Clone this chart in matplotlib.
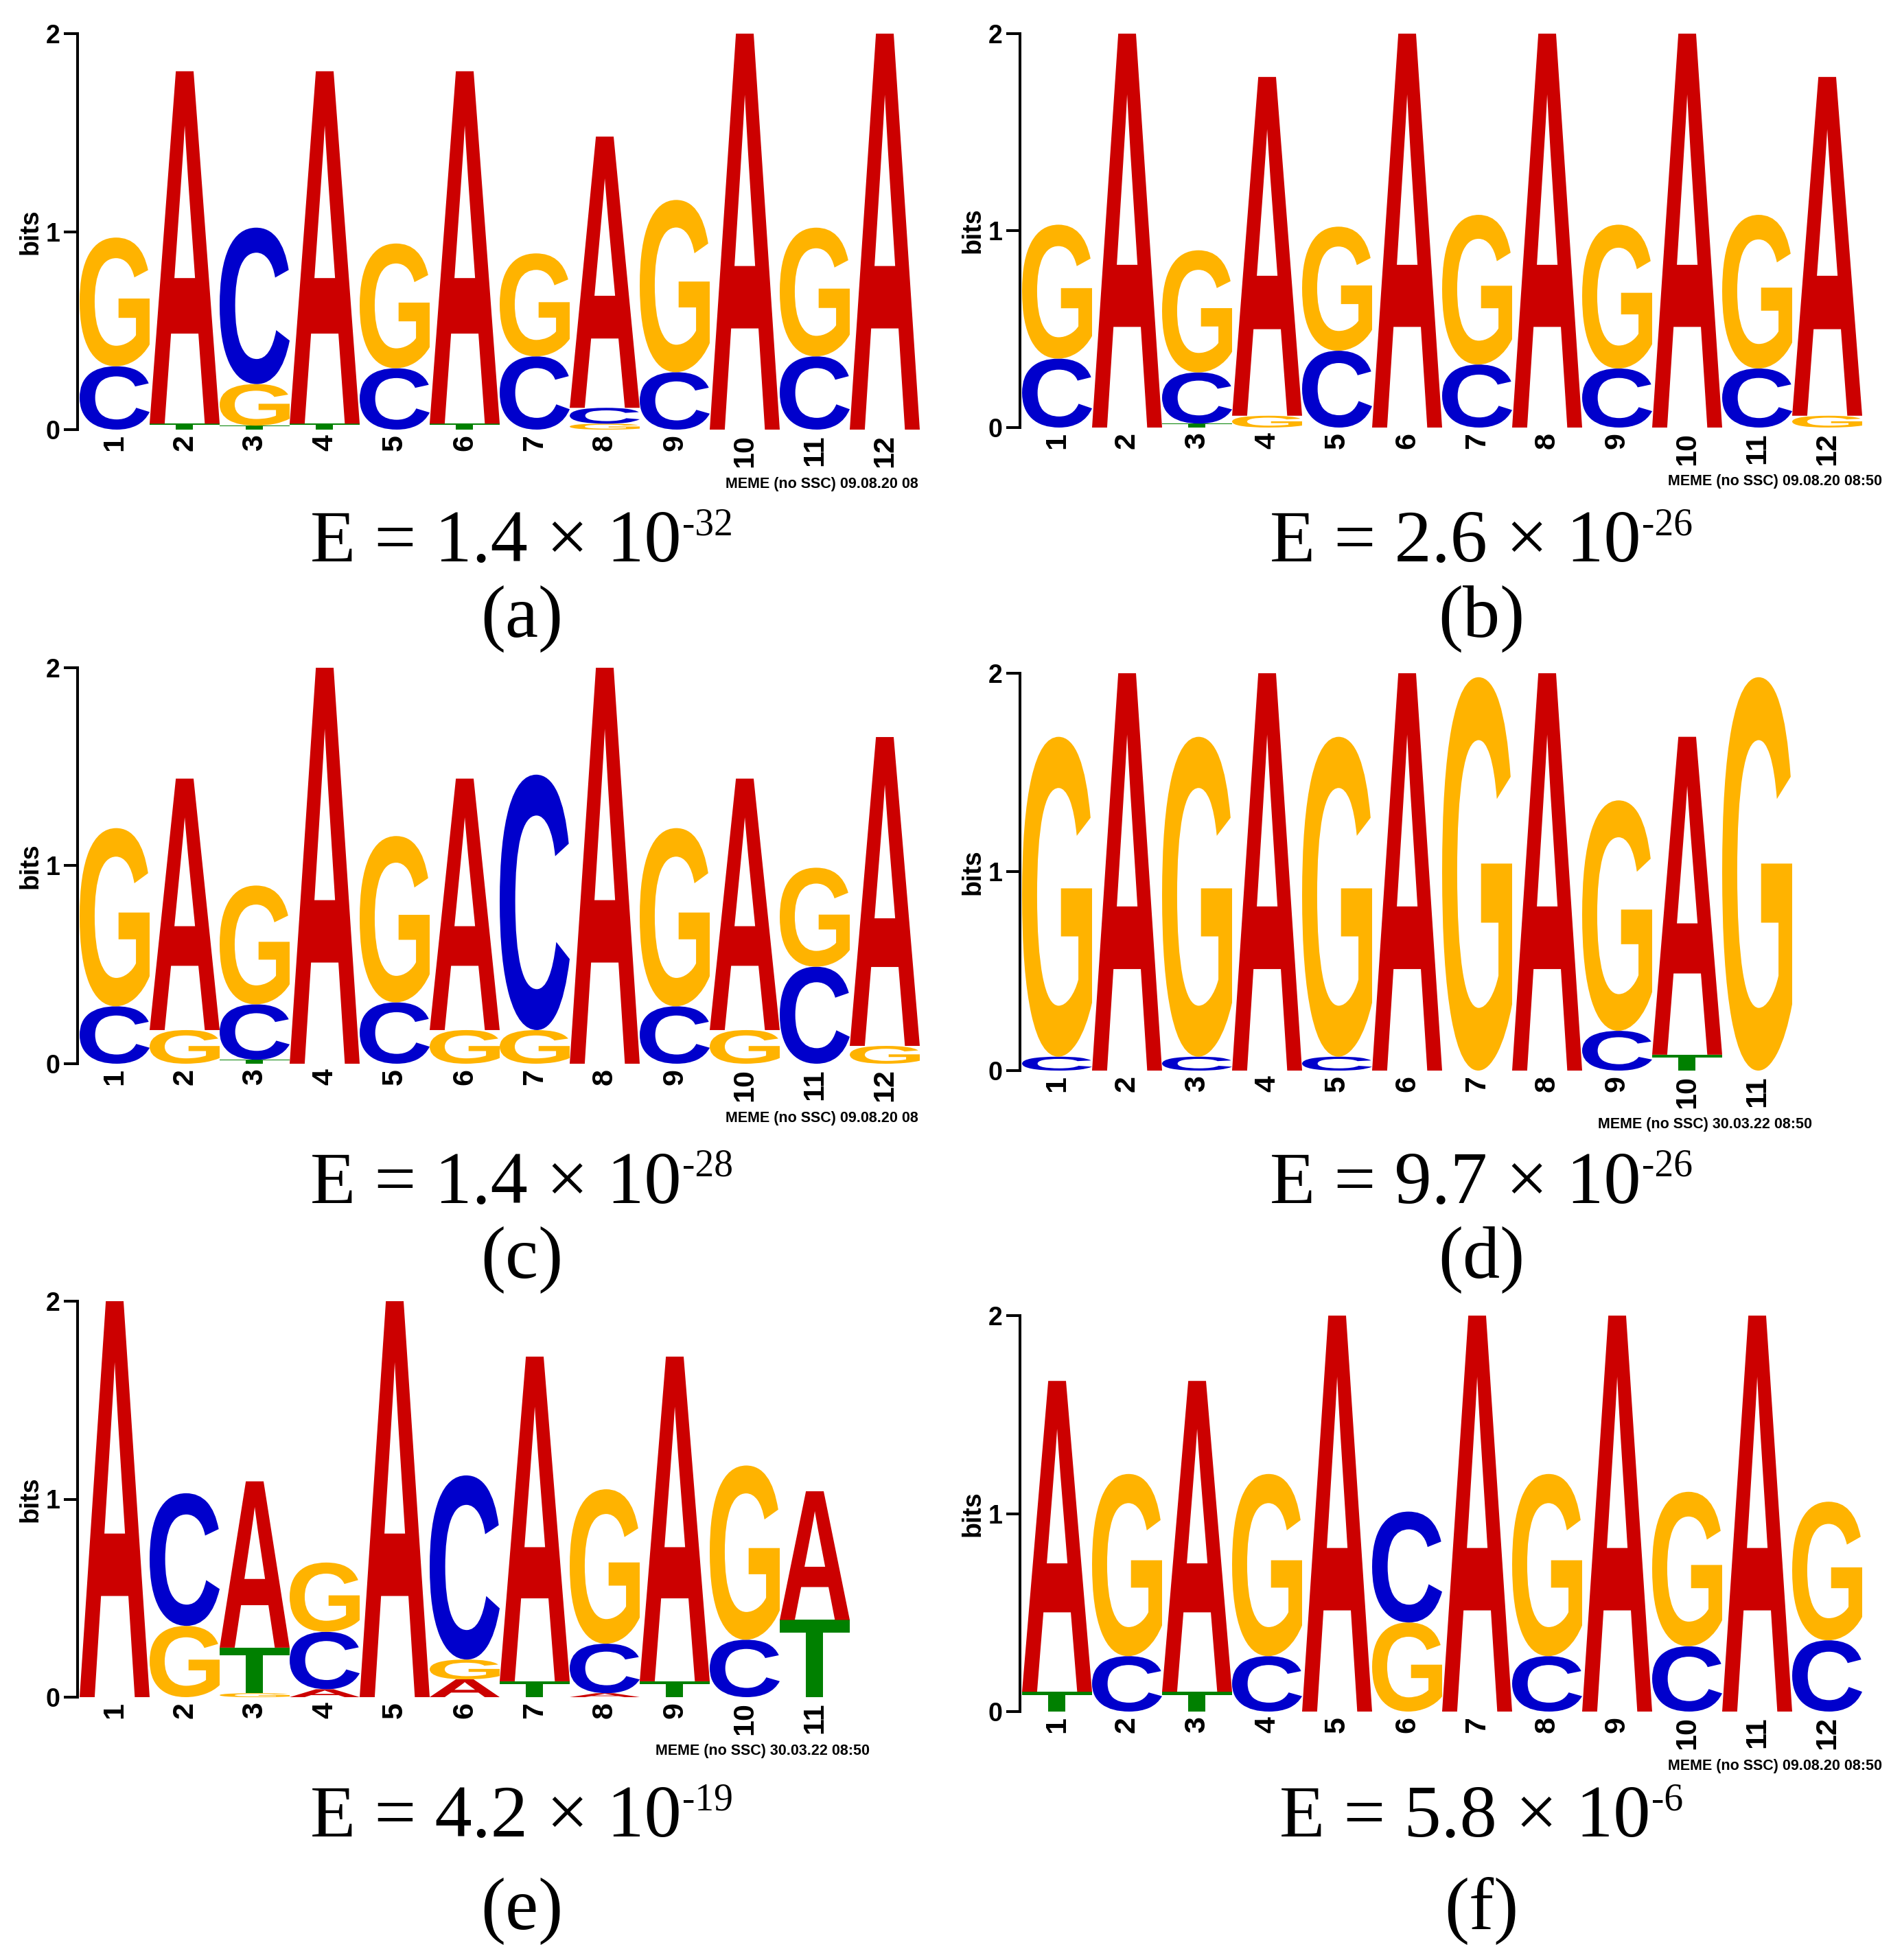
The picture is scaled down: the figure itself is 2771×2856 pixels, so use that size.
import matplotlib
matplotlib.use("Agg")
import matplotlib.pyplot as plt
from matplotlib.textpath import TextPath
from matplotlib.patches import PathPatch
from matplotlib.font_manager import FontProperties
from matplotlib.transforms import Affine2D

# letter heights (bits) per position, listed bottom -> top
motif_a = [
    [("C", 0.32), ("G", 0.65)],
    [("T", 0.03), ("A", 1.78)],
    [("T", 0.02), ("G", 0.21), ("C", 0.79)],
    [("T", 0.03), ("A", 1.78)],
    [("C", 0.31), ("G", 0.63)],
    [("T", 0.03), ("A", 1.78)],
    [("C", 0.37), ("G", 0.52)],
    [("G", 0.03), ("C", 0.08), ("A", 1.37)],
    [("C", 0.29), ("G", 0.87)],
    [("A", 2.0)],
    [("C", 0.37), ("G", 0.65)],
    [("A", 2.0)],
]
motif_b = [
    [("C", 0.35), ("G", 0.68)],
    [("A", 2.0)],
    [("T", 0.02), ("C", 0.26), ("G", 0.62)],
    [("G", 0.06), ("A", 1.72)],
    [("C", 0.39), ("G", 0.63)],
    [("A", 2.0)],
    [("C", 0.32), ("G", 0.76)],
    [("A", 2.0)],
    [("C", 0.30), ("G", 0.73)],
    [("A", 2.0)],
    [("C", 0.30), ("G", 0.78)],
    [("G", 0.06), ("A", 1.72)],
]
motif_c = [
    [("C", 0.29), ("G", 0.90)],
    [("G", 0.17), ("A", 1.27)],
    [("T", 0.02), ("C", 0.28), ("G", 0.60)],
    [("A", 2.0)],
    [("C", 0.31), ("G", 0.84)],
    [("G", 0.17), ("A", 1.27)],
    [("G", 0.17), ("C", 1.29)],
    [("A", 2.0)],
    [("C", 0.29), ("G", 0.90)],
    [("G", 0.17), ("A", 1.27)],
    [("C", 0.49), ("G", 0.50)],
    [("G", 0.09), ("A", 1.56)],
]
motif_d = [
    [("C", 0.07), ("G", 1.61)],
    [("A", 2.0)],
    [("C", 0.07), ("G", 1.61)],
    [("A", 2.0)],
    [("C", 0.07), ("G", 1.61)],
    [("A", 2.0)],
    [("G", 1.98)],
    [("A", 2.0)],
    [("C", 0.20), ("G", 1.16)],
    [("T", 0.08), ("A", 1.60)],
    [("G", 1.98)],
]
motif_e = [
    [("A", 2.0)],
    [("G", 0.36), ("C", 0.67)],
    [("G", 0.02), ("T", 0.23), ("A", 0.84)],
    [("A", 0.04), ("C", 0.29), ("G", 0.35)],
    [("A", 2.0)],
    [("A", 0.09), ("G", 0.10), ("C", 0.93)],
    [("T", 0.08), ("A", 1.64)],
    [("A", 0.02), ("C", 0.25), ("G", 0.78)],
    [("T", 0.08), ("A", 1.64)],
    [("C", 0.29), ("G", 0.88)],
    [("T", 0.39), ("A", 0.65)],
]
motif_f = [
    [("T", 0.10), ("A", 1.57)],
    [("C", 0.28), ("G", 0.92)],
    [("T", 0.10), ("A", 1.57)],
    [("C", 0.28), ("G", 0.92)],
    [("A", 2.0)],
    [("G", 0.45), ("C", 0.56)],
    [("A", 2.0)],
    [("C", 0.28), ("G", 0.92)],
    [("A", 2.0)],
    [("C", 0.33), ("G", 0.78)],
    [("A", 2.0)],
    [("C", 0.36), ("G", 0.70)],
]

e_mantissa = ["1.4", "2.6", "1.4", "9.7", "4.2", "5.8"]
e_exponent = ["32", "26", "28", "26", "19", "6"]
panel_labels = ["(a)", "(b)", "(c)", "(d)", "(e)", "(f)"]
meme_stamps = ["MEME (no SSC) 09.08.20 08",
               "MEME (no SSC) 09.08.20 08:50",
               "MEME (no SSC) 09.08.20 08",
               "MEME (no SSC) 30.03.22 08:50",
               "MEME (no SSC) 30.03.22 08:50",
               "MEME (no SSC) 09.08.20 08:50"]
motifs = [motif_a, motif_b, motif_c, motif_d, motif_e, motif_f]

COLORS = {"A": "#cc0000", "C": "#0000cc", "G": "#ffb300", "T": "#008000"}

W, H = 2771, 2856
COL = 102  # px per logo column
# axis left px, y of "2" px, y of "0" px, E baseline, label baseline, text centre
layout = [
    (113, 49, 626, 818, 928, 760),
    (1486, 49, 623, 818, 928, 2158),
    (113, 973, 1550, 1753, 1862, 760),
    (1486, 981, 1560, 1753, 1862, 2158),
    (113, 1896, 2473, 2676, 2811, 760),
    (1486, 1917, 2494, 2676, 2811, 2158),
]

letter_font = FontProperties(family="Liberation Sans", weight="bold")
fig = plt.figure(figsize=(W / 100, H / 100), dpi=100)
renderer = fig.canvas.get_renderer()


def draw_letter(ax, ch, x, y0, h):
    tp = TextPath((0, 0), ch, size=1, prop=letter_font)
    bb = tp.get_extents()
    tr = (Affine2D().translate(-bb.x0, -bb.y0)
          .scale(1.0 / bb.width, h / bb.height)
          .translate(x - 0.5, y0))
    ax.add_patch(PathPatch(tr.transform_path(tp), fc=COLORS[ch], ec="none",
                           lw=0, clip_on=False))


def fx(px):
    return px / W


def fy(py):
    return 1 - py / H


for i, motif in enumerate(motifs):
    left, ytop, yzero, ebase, lbase, cx = layout[i]
    n = len(motif)
    ax = fig.add_axes([fx(left), fy(yzero), (n * COL + 3) / W, (yzero - ytop) / H])
    ax.set_xlim(0.5 - 3.0 / COL, n + 0.5)
    ax.set_ylim(0, 2)
    for pos, stack in enumerate(motif, start=1):
        y = 0.0
        for ch, h in stack:
            draw_letter(ax, ch, pos, y, h)
            y += h
    for s in ["top", "right", "bottom"]:
        ax.spines[s].set_visible(False)
    ax.spines["left"].set_linewidth(2.9)
    ax.set_yticks([0, 1, 2])
    ax.set_yticklabels(["0", "1", "2"], fontsize=27, fontweight="bold",
                       family="Liberation Sans")
    ax.tick_params(axis="y", length=14.4, width=2.9, pad=4)
    ax.set_xticks(range(1, n + 1))
    ax.set_xticklabels([str(k) for k in range(1, n + 1)], rotation=90,
                       fontsize=31, fontweight="bold", family="Liberation Sans")
    ax.tick_params(axis="x", length=0, pad=5)
    ax.patch.set_visible(False)

    fig.text(fx(left - 68), fy((ytop + yzero) / 2), "bits", rotation=90,
             ha="center", va="center", fontsize=27, fontweight="bold",
             family="Liberation Sans")
    fig.text(fx(left + n * COL - 280), fy(yzero + 79), meme_stamps[i],
             ha="left", va="center", fontsize=15.5, fontweight="bold",
             family="Liberation Sans")

    # E-value with superscript exponent, centred as a whole
    main = fig.text(fx(cx), fy(ebase), "E = %s \u00d7 10" % e_mantissa[i],
                    fontsize=78, family="Liberation Serif", ha="left",
                    va="baseline")
    bb = main.get_window_extent(renderer)
    sup = fig.text((bb.x1 + 1) / W, (bb.y1 + 4) / H, "-" + e_exponent[i],
                   fontsize=40, family="Liberation Serif", ha="left", va="top")
    bs = sup.get_window_extent(renderer)
    shift = cx - (bb.x0 + bs.x1) / 2
    main.set_x((cx + shift) / W)
    sup.set_x((bb.x1 + 1 + shift) / W)

    fig.text(fx(cx), fy(lbase), panel_labels[i], fontsize=78,
             family="Liberation Serif", ha="center", va="baseline")

fig.savefig("out.png", dpi=100, facecolor="white")
